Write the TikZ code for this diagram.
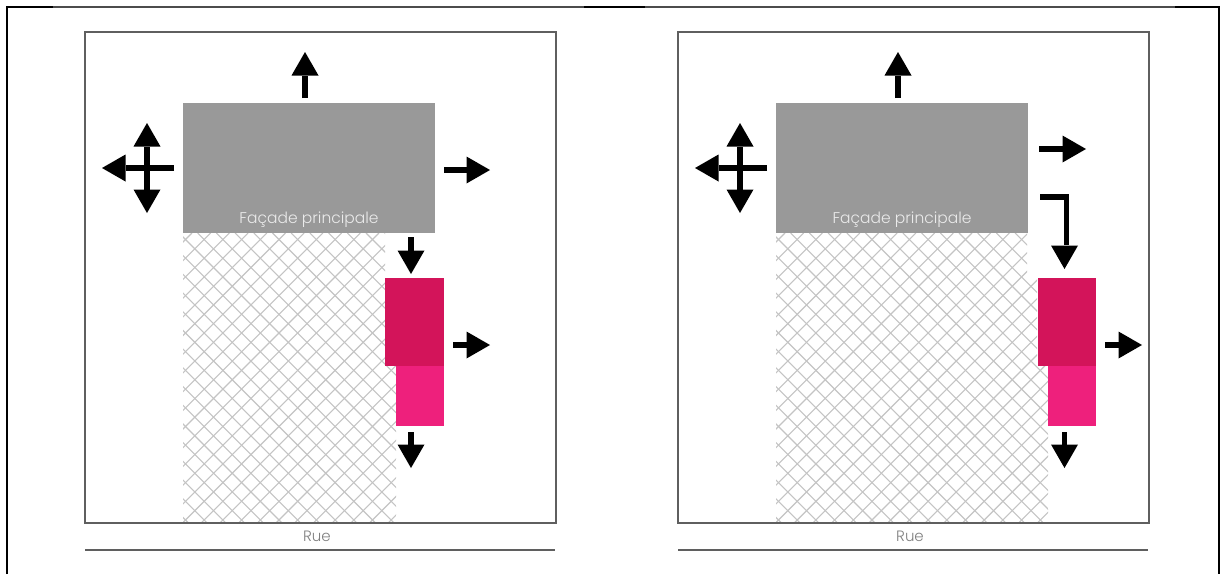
\documentclass[tikz,border=0pt]{standalone}
\usepackage{fontspec}
\setmainfont{Poppins Light}
\definecolor{framegray}{HTML}{5F5F5F}
\definecolor{facadegray}{HTML}{999999}
\definecolor{hatchgray}{HTML}{C4C4C4}
\definecolor{darkpink}{HTML}{D3145A}
\definecolor{lightpink}{HTML}{EE207C}
\definecolor{ruegray}{HTML}{808080}
\tikzset{
  x=1pt,y=-1pt,
  framebox/.style={draw=framegray,line width=2.6pt,fill=white},
  frameline/.style={draw=framegray,line width=2.6pt},
  ruleline/.style={draw=framegray,line width=2.2pt},
  facade/.style={fill=facadegray},
  wingdark/.style={fill=darkpink},
  winglight/.style={fill=lightpink},
  hatchline/.style={draw=hatchgray,line width=1.1pt},
  shaft/.style={draw=black,line width=5.3pt},
  headtip/.style={fill=black},
  facadelabel/.style={text=white!92!black,font=\fontsize{15.5}{17}\selectfont,inner sep=0pt},
  ruelabel/.style={text=ruegray,font=\fontsize{15}{17}\selectfont,inner sep=0pt}
}
\newcommand{\harrow}[3]{%
  \pgfmathsetmacro{\hb}{#3+ (#1<#3 ? -23.5 : 23.5)}%
  \draw[shaft] (#1,#2) -- (\hb,#2);
  \fill[headtip] (#3,#2) -- (\hb,#2-13.5) -- (\hb,#2+13.5) -- cycle;}
\newcommand{\varrow}[3]{%
  \pgfmathsetmacro{\vb}{#3+ (#2<#3 ? -23.5 : 23.5)}%
  \draw[shaft] (#1,#2) -- (#1,\vb);
  \fill[headtip] (#1,#3) -- (#1-13.5,\vb) -- (#1+13.5,\vb) -- cycle;}
\newcommand{\plan}[2]{%
\begin{scope}[xshift=#1]
  \draw[framebox] (85,32) rectangle (556,523);
  \begin{scope}
    \clip #2;
    \foreach \k in {0,...,36} {
      \draw[hatchline] (-101.5+\k*18.7,233) -- ++(320,320);
    }
    \foreach \k in {-16,...,15} {
      \draw[hatchline] (472.5+\k*18.7,233) -- ++(-320,320);
    }
  \end{scope}
  \draw[frameline] (85,523) -- (556,523);
  \fill[facade] (183,103) rectangle (434.5,233);
  \node[facadelabel] at (309,220) {Façade principale};
  \node[ruelabel] at (317,536) {Rue};
  \draw[ruleline] (85,550) -- (555,550);
  \varrow{305}{98}{52}
  \harrow{174}{168}{102}
  \varrow{147}{168}{123}
  \varrow{147}{168}{213}
\end{scope}}
\begin{document}
\begin{tikzpicture}
\useasboundingbox (0,0) rectangle (1220,574);
\fill[white] (0,0) rectangle (1220,574);
\draw[black,line width=1.4pt] (6.8,574) -- (6.8,6.8);
\draw[black,line width=1.4pt] (1218.8,6.8) -- (1218.8,574);
\draw[black!70,line width=1.8pt] (6,6.8) -- (1219.5,6.8);
\draw[black,line width=2pt] (6,6.8) -- (53,6.8);
\draw[black,line width=2pt] (584,6.8) -- (645,6.8);
\draw[black,line width=2pt] (1175,6.8) -- (1219.5,6.8);
\plan{0pt}{(183,233) -- (385,233) -- (385,365.5) -- (396,365.5) -- (396,523) -- (183,523) -- cycle}
\plan{593pt}{(183,233) -- (434,233) -- (434,278) -- (444,278) -- (444,365.5) -- (455,365.5) -- (455,523) -- (183,523) -- cycle}
\fill[wingdark] (385,278) rectangle (444,365.5);
\fill[winglight] (395.5,365.5) rectangle (444,425.5);
\fill[wingdark] (1037.5,278) rectangle (1096,365.5);
\fill[winglight] (1048,365.5) rectangle (1096,425.5);
\harrow{444}{170}{490}
\varrow{411}{237}{274}
\harrow{453}{345}{490}
\varrow{411}{432}{468}
\harrow{1039}{149}{1086}
\draw[shaft,line cap=butt,miter limit=4] (1040,197) -- (1066.5,197) -- (1066.5,245);
\fill[headtip] (1064.5,269) -- (1051,245.5) -- (1078,245.5) -- cycle;
\harrow{1105}{345}{1142}
\varrow{1064.5}{432}{468}
\end{tikzpicture}
\end{document}
